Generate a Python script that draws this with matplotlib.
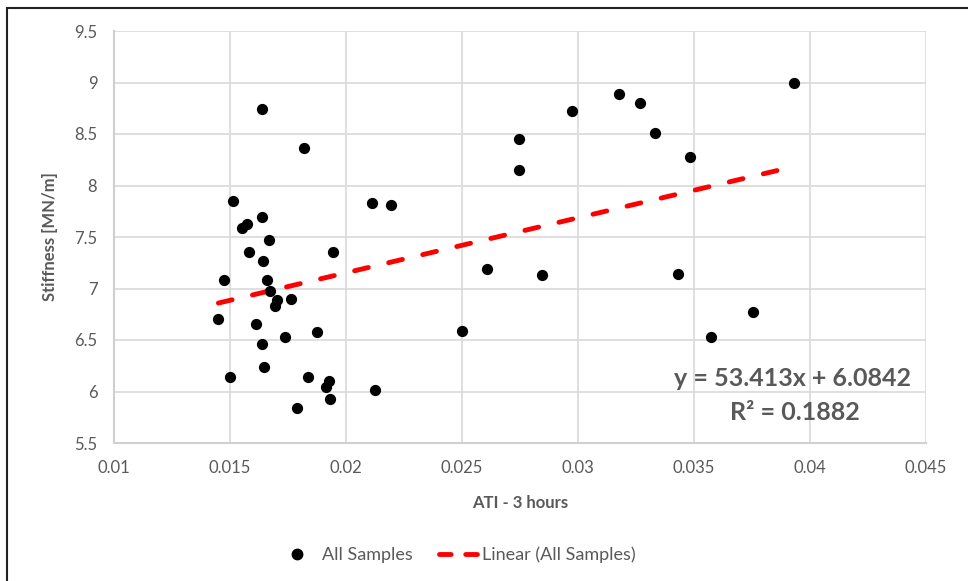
import matplotlib
matplotlib.use("Agg")
import matplotlib.pyplot as plt
import numpy as np
from matplotlib.lines import Line2D
from matplotlib.patches import Rectangle

plt.rcParams['font.family'] = ['Lato', 'DejaVu Sans']

ati = [0.01450, 0.01473, 0.01500, 0.01513, 0.01550, 0.01574, 0.01581, 0.01611,
       0.01636, 0.01640, 0.01643, 0.01637, 0.01647, 0.01660, 0.01668, 0.01674,
       0.01693, 0.01704, 0.01737, 0.01764, 0.01787, 0.01818, 0.01836, 0.01873,
       0.01912, 0.01925, 0.01930, 0.01944, 0.02110, 0.02126, 0.02196, 0.02502,
       0.02608, 0.02744, 0.02747, 0.02845, 0.02975, 0.03177, 0.03266, 0.03334,
       0.03433, 0.03483, 0.03574, 0.03755, 0.03933]
stiffness = [6.70, 7.08, 6.14, 7.845, 7.59, 7.63, 7.35, 6.66,
             8.74, 7.69, 7.27, 6.46, 6.24, 7.08, 7.47, 6.98,
             6.83, 6.89, 6.53, 6.90, 5.84, 8.36, 6.14, 6.58,
             6.04, 6.10, 5.93, 7.35, 7.83, 6.01, 7.81, 6.59,
             7.19, 8.45, 8.15, 7.13, 8.725, 8.893, 8.80, 8.51,
             7.14, 8.28, 6.53, 6.77, 9.00]
slope = 53.413
intercept = 6.0842
r2 = 0.1882
xticks = [0.01, 0.015, 0.02, 0.025, 0.03, 0.035, 0.04, 0.045]
xticklabels = ['0.01', '0.015', '0.02', '0.025', '0.03', '0.035', '0.04', '0.045']
yticks = [5.5, 6, 6.5, 7, 7.5, 8, 8.5, 9, 9.5]
yticklabels = ['5.5', '6', '6.5', '7', '7.5', '8', '8.5', '9', '9.5']

gray = '#595959'
red = '#ff0000'
fig = plt.figure(figsize=(9.68, 5.81), dpi=100)
fig.patches.append(Rectangle((7/968, -0.1), 1.2, 1 - 8/581 + 0.1, transform=fig.transFigure,
                             fill=False, edgecolor='#222222', linewidth=1.5, zorder=-1))
ax = fig.add_axes([114/968, 1 - 443/581, (926 - 114)/968, (443 - 31)/581])

dash = (2.9, 4.3)
ax.scatter(ati, stiffness, s=50, color='black', zorder=3)
xs = np.array([min(ati), max(ati)])
ax.plot(xs, slope * xs + intercept, color=red, linewidth=3.5,
        dashes=dash, dash_capstyle='round', zorder=2)

ax.set_xlim(0.01, 0.045)
ax.set_ylim(5.5, 9.5)
ax.set_xticks(xticks)
ax.set_xticklabels(xticklabels)
ax.set_yticks(yticks)
ax.set_yticklabels(yticklabels)
ax.grid(True, color='#d9d9d9', linewidth=1.2, zorder=0)
ax.set_axisbelow(True)
for s in ['top', 'right']:
    ax.spines[s].set_visible(False)
for s in ['left', 'bottom']:
    ax.spines[s].set_color('#d0d0d0')
    ax.spines[s].set_linewidth(1.5)
ax.tick_params(length=0, labelsize=12, labelcolor=gray, pad=12)

ax.set_xlabel('ATI - 3 hours', fontsize=12, color=gray, fontweight='bold', labelpad=14)
ax.set_ylabel('Stiffness [MN/m]', fontsize=12, color=gray, fontweight='bold', labelpad=12)

fig.text(793/968, 1 - 378/581, f'y = {slope}x + {intercept}',
         ha='center', va='center', fontsize=18, fontweight='bold', color=gray)
fig.text(795/968, 1 - 412/581, f'R² = {r2}',
         ha='center', va='center', fontsize=18, fontweight='bold', color=gray)

h1 = [Line2D([], [], marker='o', color='black', linestyle='none', markersize=7.5)]
leg1 = fig.legend(h1, ['All Samples'], loc='center left',
                  bbox_to_anchor=(280/968, 1 - 555/581), frameon=False, fontsize=13,
                  labelcolor=gray, handlelength=1.9, handletextpad=0.4, borderpad=0,
                  borderaxespad=0)
h2 = [Line2D([], [], color=red, linewidth=3.5, dashes=(2.4, 3.0), dash_capstyle='round')]
leg2 = fig.legend(h2, ['Linear (All Samples)'], loc='center left',
                  bbox_to_anchor=(439/968, 1 - 555/581), frameon=False, fontsize=13,
                  labelcolor=gray, handlelength=2.1, handletextpad=0.3, borderpad=0,
                  borderaxespad=0)

fig.savefig('out.png', dpi=100)
